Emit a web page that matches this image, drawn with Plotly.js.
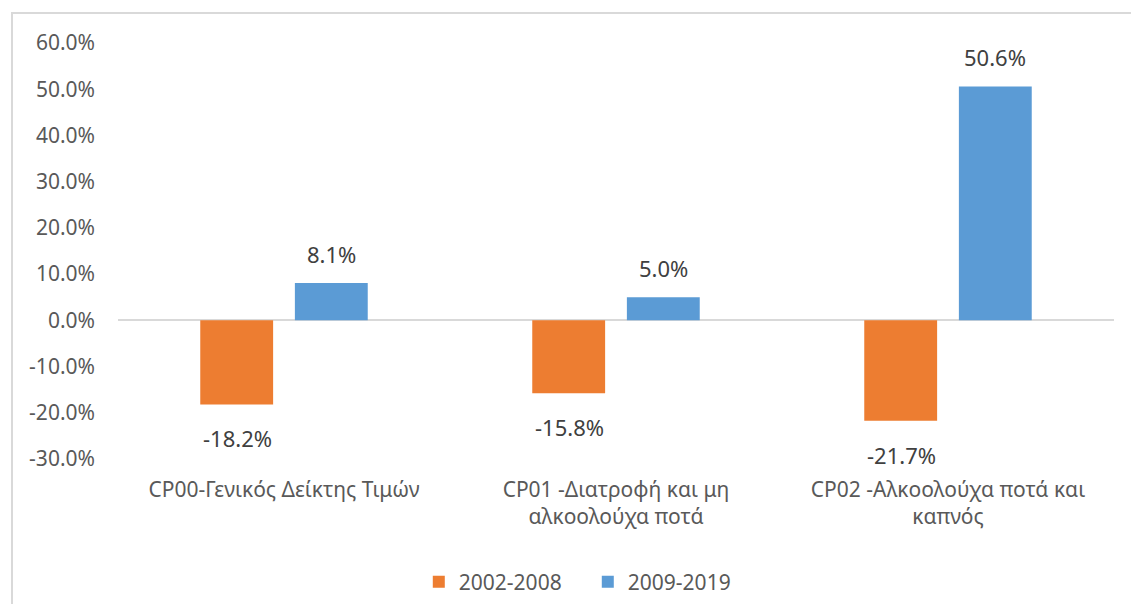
<!DOCTYPE html>
<html><head><meta charset="utf-8">
<script src="https://cdn.plot.ly/plotly-3.0.1.min.js"></script>
<style>
html,body{margin:0;padding:0;background:#fff;}
#frame{position:absolute;left:11px;top:12px;width:1130px;height:600px;border:2px solid #d9d9d9;box-sizing:border-box;pointer-events:none;z-index:5;}
#chart{position:absolute;left:0;top:0;width:1131px;height:604px;}
</style></head>
<body>
<div id="chart"></div>
<div id="frame"></div>
<script>
const categories = ["CP00-Γενικός Δείκτης Τιμών", "CP01 -Διατροφή και μη<br>αλκοολούχα ποτά", "CP02 -Αλκοολούχα ποτά και<br>καπνός"];
const series1Name = "2002-2008";
const series1 = [-18.2, -15.8, -21.7];
const series2Name = "2009-2019";
const series2 = [8.1, 5.0, 50.6];
const yTickVals = [-30, -20, -10, 0, 10, 20, 30, 40, 50, 60];
const yTickText = yTickVals.map(v => v.toFixed(1) + "%");

const FONT = "Noto Sans, sans-serif";
const GREY = "#595959";

const traces = [
  {type:"bar", name:series1Name, x:categories, y:series1, marker:{color:"#ED7D31"}, hoverinfo:"skip"},
  {type:"bar", name:series2Name, x:categories, y:series2, marker:{color:"#5B9BD5"}, hoverinfo:"skip"}
];

const annotations = [];
[series1, series2].forEach((s, si) => {
  s.forEach((v, i) => {
    annotations.push({
      x: categories[i], y: v, xref:"x", yref:"y",
      text: v.toFixed(1) + "%", showarrow:false,
      xshift: si === 0 ? -47 : 47,
      yanchor: v >= 0 ? "bottom" : "top",
      yshift: v >= 0 ? 12 : -17,
      font:{family:FONT, size:22, color:"#404040"}
    });
  });
});

const layout = {
  width:1131, height:604,
  margin:{l:118, r:17, t:43, b:145, autoexpand:false},
  paper_bgcolor:"#ffffff", plot_bgcolor:"#ffffff",
  barmode:"group", bargap:0.43, bargroupgap:0.23,
  font:{family:FONT, color:GREY, size:21},
  showlegend:true,
  legend:{orientation:"h", x:0.302, xanchor:"left", y:-0.296, yanchor:"middle", font:{family:FONT, size:21, color:GREY}, itemwidth:30, entrywidth:124, traceorder:"normal"},
  xaxis:{type:"category", automargin:false, showgrid:false, showline:false, zeroline:false, ticks:"", ticklabelstandoff:16, tickfont:{family:FONT, size:21, color:GREY}},
  yaxis:{range:[-30,60], automargin:false, tickvals:yTickVals, ticktext:yTickText, showgrid:false, showline:false, zeroline:true, zerolinecolor:"#d9d9d9", zerolinewidth:2, ticks:"", ticklabelstandoff:22, tickfont:{family:FONT, size:21, color:GREY}},
  annotations: annotations
};

Plotly.newPlot("chart", traces, layout, {staticPlot:true, displayModeBar:false});
</script>
</body></html>
